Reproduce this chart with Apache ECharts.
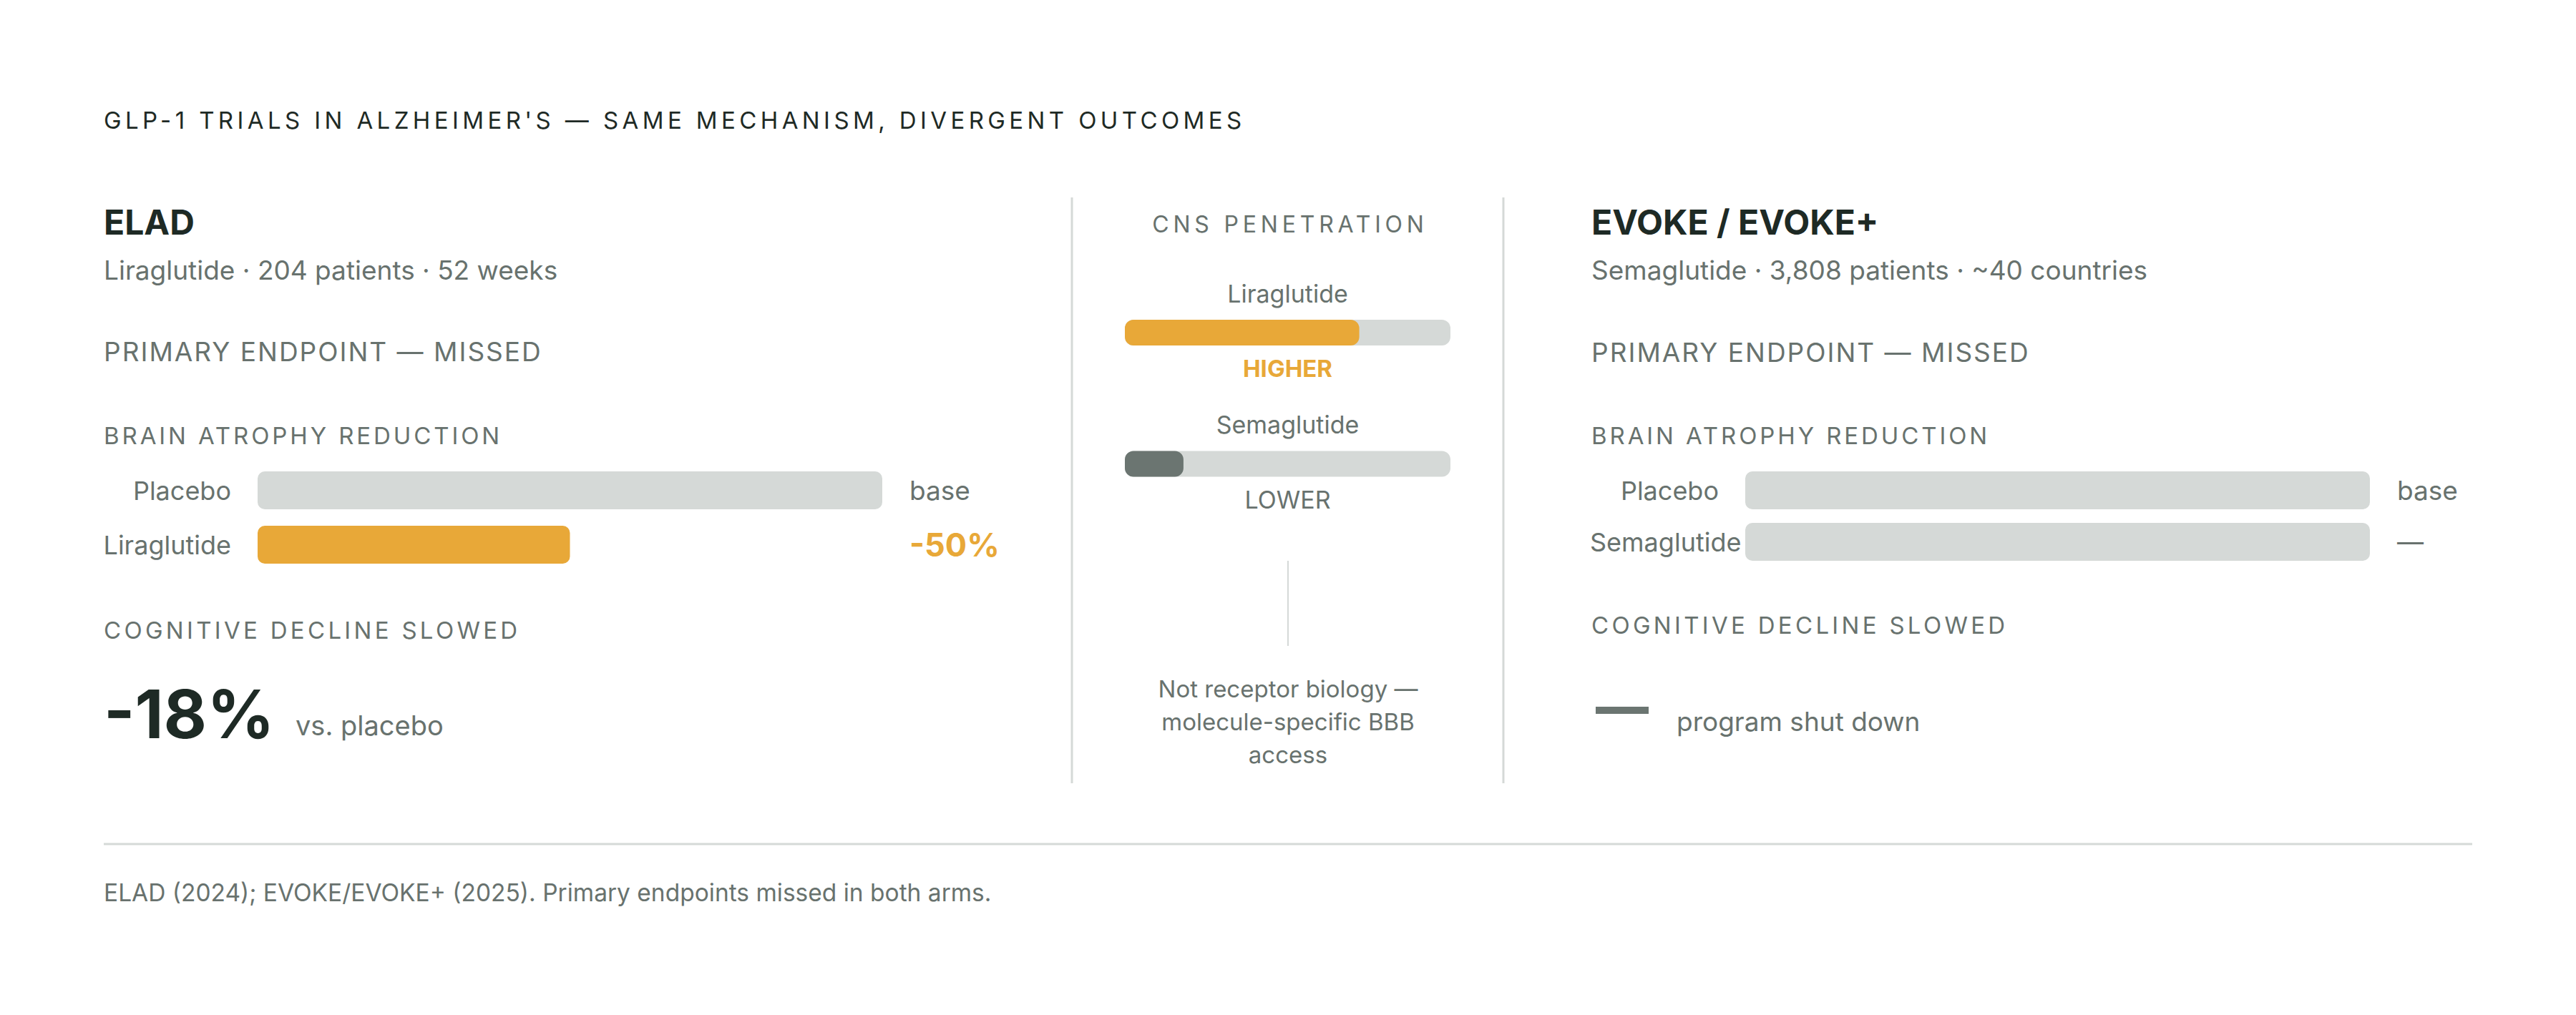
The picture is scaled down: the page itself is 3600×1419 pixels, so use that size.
<!DOCTYPE html>
<html>
<head>
<meta charset="utf-8">
<title>GLP-1 trials in Alzheimer's</title>
<script src="https://cdn.jsdelivr.net/npm/echarts@6/dist/echarts.min.js"></script>
<style>
  html, body { margin: 0; padding: 0; background: #fff; }
  #chart { width: 3600px; height: 1419px; }
</style>
</head>
<body>
<div id="chart"></div>
<script>
// ---- data -------------------------------------------------------------
const chartTitle = "GLP-1 TRIALS IN ALZHEIMER'S — SAME MECHANISM, DIVERGENT OUTCOMES";
const trialNames = ["ELAD", "EVOKE / EVOKE+"];
const trialDetails = ["Liraglutide · 204 patients · 52 weeks", "Semaglutide · 3,808 patients · ~40 countries"];
const endpointResults = ["PRIMARY ENDPOINT — MISSED", "PRIMARY ENDPOINT — MISSED"];
const atrophyHeading = "BRAIN ATROPHY REDUCTION";
const cognitionHeading = "COGNITIVE DECLINE SLOWED";

// brain atrophy, placebo arm = 100
const eladArms = ["Placebo", "Liraglutide"];
const eladAtrophy = [100, 50];
const eladAtrophyLabels = ["base", "-50%"];
const evokeArms = ["Placebo", "Semaglutide"];
const evokeAtrophy = [100, 100];
const evokeAtrophyLabels = ["base", "—"];

const eladCognition = "-18%";
const eladCognitionNote = "vs. placebo";
const evokeCognitionNote = "program shut down";

// relative CNS penetration, 0-100
const cnsHeading = "CNS PENETRATION";
const cnsDrugs = ["Liraglutide", "Semaglutide"];
const cnsPenetration = [72, 18];
const cnsLevels = ["HIGHER", "LOWER"];
const cnsNoteLines = ["Not receptor biology —", "molecule-specific BBB", "access"];

const footnote = "ELAD (2024); EVOKE/EVOKE+ (2025). Primary endpoints missed in both arms.";

const SCALE_MAX = 100;

// ---- style ------------------------------------------------------------
const FONT = "Inter, 'DejaVu Sans', sans-serif";
const INK = "#1e2a25";
const MUTED = "#68726e";
const ORANGE = "#e8a838";
const TRACK = "#d5d9d7";
const SLATE = "#6b7571";

// canvas text has no letter-spacing, so the spaced caps are set on the svg nodes
const spacedText = {
  [chartTitle]: 5.4,
  [endpointResults[0]]: 2,
  [atrophyHeading]: 3.9,
  [cognitionHeading]: 4.3,
  [cnsHeading]: 5.8,
};

function text(str, x, y, size, color, opts = {}) {
  return {
    type: "text", x, y, silent: true,
    style: {
      text: str, fill: color, fontSize: size, fontFamily: FONT,
      fontWeight: opts.weight || 400, align: opts.align || "left",
      verticalAlign: "middle", lineHeight: opts.lineHeight,
    },
  };
}

function line(x1, y1, x2, y2, width) {
  return { type: "line", silent: true, shape: { x1, y1, x2, y2 }, style: { stroke: TRACK, lineWidth: width } };
}

// placebo stays grey, a treated arm turns orange only when it moved off baseline
function armColor(values, i) {
  return i > 0 && values[i] < SCALE_MAX ? ORANGE : TRACK;
}

function atrophyLabel(values, labels) {
  return (p) => {
    const t = labels[p.dataIndex];
    return armColor(values, p.dataIndex) === ORANGE ? `{hi|${t}}` : `{lo|${t}}`;
  };
}

const atrophyRich = {
  hi: { color: ORANGE, fontSize: 45, fontWeight: 700, fontFamily: FONT },
  lo: { color: MUTED, fontSize: 37, fontFamily: FONT },
};

function atrophySeries(axis, values, labels) {
  return [
    {
      type: "bar", xAxisIndex: axis, yAxisIndex: axis, barWidth: 53, barGap: "-100%", silent: true,
      data: values.map((v, i) => ({ value: v, itemStyle: { color: armColor(values, i) } })),
      itemStyle: { borderRadius: 10 },
    },
    {
      // invisible full-length bar that only carries the value labels at the track end
      type: "bar", xAxisIndex: axis, yAxisIndex: axis, barWidth: 53, barGap: "-100%", silent: true,
      data: values.map(() => SCALE_MAX),
      itemStyle: { color: "rgba(0,0,0,0)" },
      label: { show: true, position: "right", distance: 38, formatter: atrophyLabel(values, labels), rich: atrophyRich },
    },
  ];
}

const chartEl = document.getElementById("chart");
const chart = echarts.init(chartEl, null, { renderer: "svg", width: 3600, height: 1419 });

const hiddenX = (i) => ({ type: "value", gridIndex: i, min: 0, max: SCALE_MAX, show: false });

chart.setOption({
  animation: false,
  backgroundColor: "#ffffff",
  textStyle: { fontFamily: FONT },
  grid: [
    { left: 360, top: 647.5, width: 873, height: 152, outerBoundsMode: "none" },
    { left: 2439, top: 649.5, width: 873, height: 144, outerBoundsMode: "none" },
    { left: 1572, top: 373.25, width: 455, height: 367, outerBoundsMode: "none" },
  ],
  xAxis: [hiddenX(0), hiddenX(1), hiddenX(2)],
  yAxis: [
    {
      type: "category", gridIndex: 0, data: eladArms, inverse: true,
      axisLine: { show: false }, axisTick: { show: false },
      axisLabel: { fontSize: 36, color: MUTED, margin: 37, fontFamily: FONT },
    },
    {
      type: "category", gridIndex: 1, data: evokeArms, inverse: true,
      axisLine: { show: false }, axisTick: { show: false },
      axisLabel: {
        fontSize: 36, color: MUTED, margin: 217, align: "left", fontFamily: FONT,
        formatter: (v) => (v.length > 8 ? v : `{r|${v}}`),
        rich: { r: { width: 180, align: "right", fontSize: 36, color: MUTED, fontFamily: FONT } },
      },
    },
    { type: "category", gridIndex: 2, data: cnsDrugs, inverse: true, show: false },
  ],
  series: [
    ...atrophySeries(0, eladAtrophy, eladAtrophyLabels),
    ...atrophySeries(1, evokeAtrophy, evokeAtrophyLabels),
    {
      type: "bar", xAxisIndex: 2, yAxisIndex: 2, barWidth: 36, barGap: "-100%", silent: true,
      data: cnsPenetration.map((v, i) => ({ value: v, itemStyle: { color: i === 0 ? ORANGE : SLATE } })),
      itemStyle: { borderRadius: 12 },
      showBackground: true,
      backgroundStyle: { color: TRACK, borderRadius: 12 },
    },
    {
      type: "bar", xAxisIndex: 2, yAxisIndex: 2, barWidth: 36, barGap: "-100%", silent: true,
      data: cnsDrugs.map(() => SCALE_MAX),
      itemStyle: { color: "rgba(0,0,0,0)" },
      label: { show: true, position: "top", distance: 20, formatter: "{b}", fontSize: 34, color: MUTED, fontFamily: FONT },
    },
    {
      type: "bar", xAxisIndex: 2, yAxisIndex: 2, barWidth: 36, barGap: "-100%", silent: true,
      data: cnsDrugs.map(() => SCALE_MAX),
      itemStyle: { color: "rgba(0,0,0,0)" },
      label: {
        show: true, position: "bottom", distance: 15,
        formatter: (p) => (p.dataIndex === 0 ? `{hi|${cnsLevels[0]}}` : `{lo|${cnsLevels[p.dataIndex]}}`),
        rich: {
          hi: { color: ORANGE, fontSize: 33, fontWeight: 700, fontFamily: FONT },
          lo: { color: MUTED, fontSize: 34, fontFamily: FONT },
        },
      },
    },
  ],
  graphic: [
    text(chartTitle, 145, 168, 33, INK),

    // ELAD column
    text(trialNames[0], 145, 310.5, 48, INK, { weight: 700 }),
    text(trialDetails[0], 145, 377, 37, MUTED),
    text(endpointResults[0], 145, 491.5, 37, MUTED),
    text(atrophyHeading, 145, 609, 33, MUTED),
    text(cognitionHeading, 145, 881, 33, MUTED),
    text(eladCognition, 145, 997.5, 93, INK, { weight: 700 }),
    text(eladCognitionNote, 413, 1014, 38, MUTED),

    // EVOKE column
    text(trialNames[1], 2224, 310, 48, INK, { weight: 700 }),
    text(trialDetails[1], 2224, 377.5, 37, MUTED),
    text(endpointResults[1], 2224, 492, 37, MUTED),
    text(atrophyHeading, 2224, 609, 33, MUTED),
    text(cognitionHeading, 2224, 874, 33, MUTED),
    { type: "rect", silent: true, shape: { x: 2230, y: 988, width: 74, height: 10 }, style: { fill: SLATE } },
    text(evokeCognitionNote, 2343, 1008.5, 37, MUTED),

    // middle column
    text(cnsHeading, 1803, 313.5, 32, MUTED, { align: "center" }),
    line(1800, 784, 1800, 903, 2),
    text(cnsNoteLines.join("\n"), 1800, 1009, 33, MUTED, { align: "center", lineHeight: 46 }),

    // separators and footer
    line(1498, 276, 1498, 1095, 3),
    line(2101, 276, 2101, 1095, 3),
    line(145, 1180, 3455, 1180, 3),
    text(footnote, 145, 1247.5, 33.5, MUTED),
  ],
});

function applySpacing() {
  chartEl.querySelectorAll("text").forEach((t) => {
    const s = spacedText[t.textContent];
    if (s) t.style.letterSpacing = s + "px";
  });
}
chart.on("finished", applySpacing);
applySpacing();
</script>
</body>
</html>
